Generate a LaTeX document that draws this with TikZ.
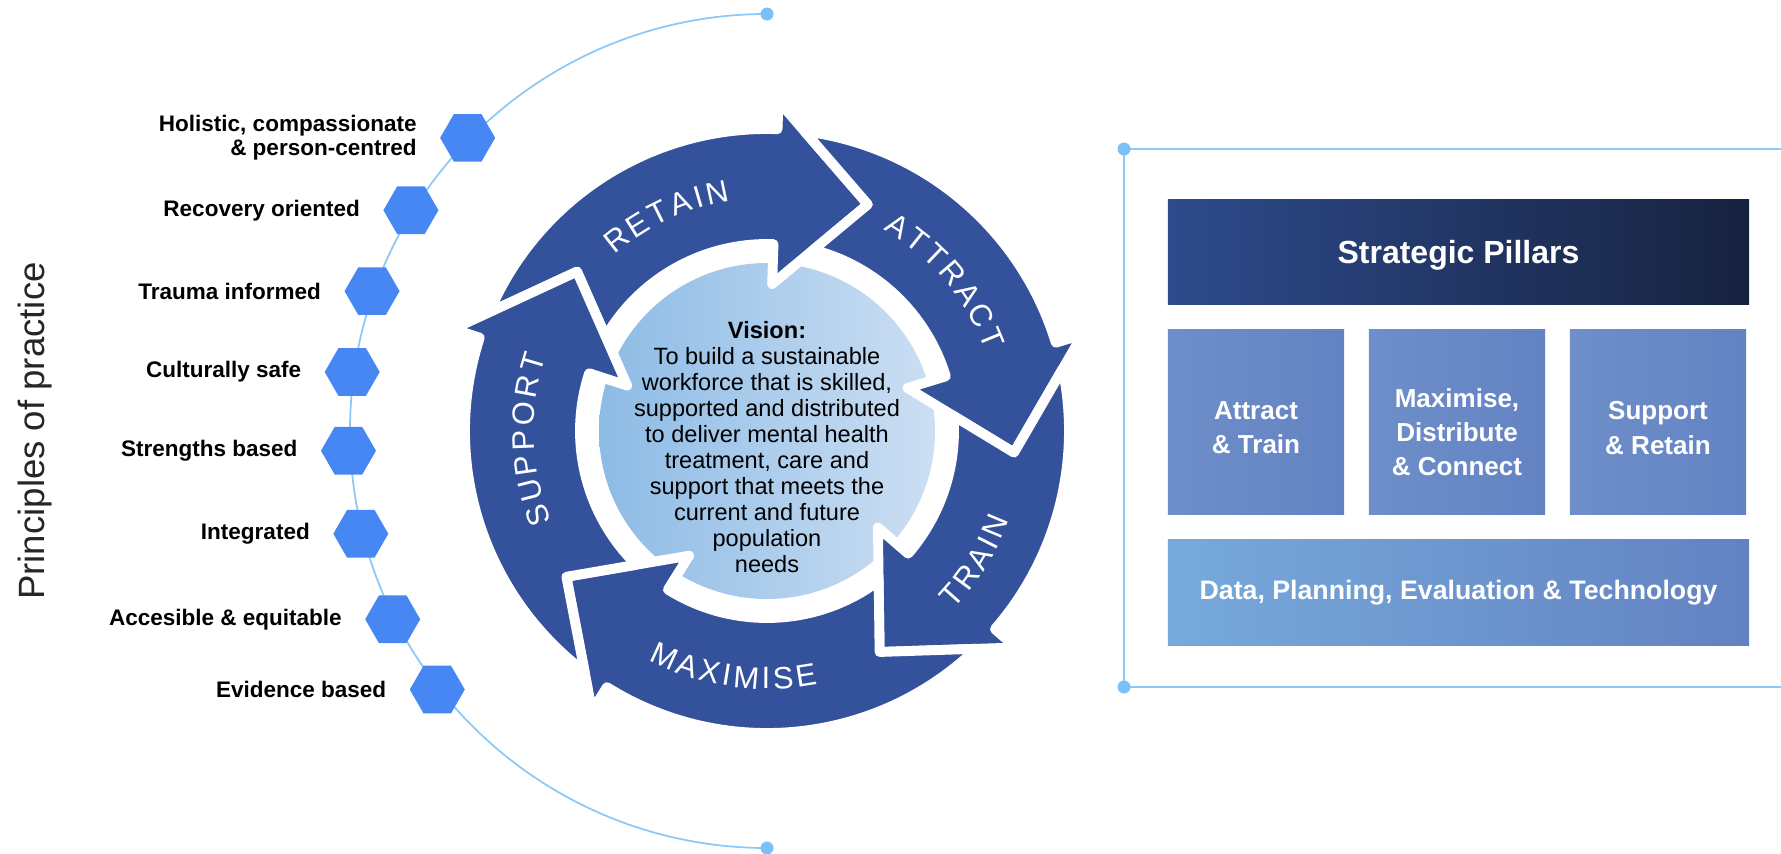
\documentclass[tikz,border=0pt]{standalone}
\usepackage{fontspec}
\setmainfont{Liberation Sans}
\newfontfamily\ringfont[WordSpace=0.38]{Liberation Sans}
\usetikzlibrary{positioning, shapes.geometric, decorations.text}

\definecolor{ringblue}{HTML}{34529B}
\definecolor{hexblue}{HTML}{4687F4}
\definecolor{arcblue}{HTML}{8CC9F6}
\definecolor{dotblue}{HTML}{7CC0F8}
\definecolor{visionleft}{HTML}{8DBBE5}
\definecolor{visionright}{HTML}{CCDFF3}
\definecolor{titleleft}{HTML}{2D4B8C}
\definecolor{titleright}{HTML}{17223F}
\definecolor{pillarleft}{HTML}{6F8FCA}
\definecolor{pillarright}{HTML}{6282C2}
\definecolor{dataleft}{HTML}{77AADB}

\tikzset{
  hexnode/.style={regular polygon, regular polygon sides=6, fill=hexblue, minimum size=0.55cm, inner sep=0pt},
  princlabel/.style={font=\fontsize{6.4pt}{6.8pt}\selectfont\bfseries, align=right, inner sep=0pt},
  arcline/.style={draw=arcblue, line width=0.5pt},
  ringarrow/.style={fill=ringblue, draw=white, line width=2.8pt, line join=round},
  pillarbox/.style={minimum width=1.76cm, minimum height=1.84cm, left color=pillarleft, right color=pillarright},
  pillartext/.style={text=white, font=\fontsize{7.4pt}{9.7pt}\selectfont\bfseries, align=center},
}

\begin{document}
\begin{tikzpicture}[x=0.01cm, y=0.01cm, node distance=0.22cm]
\useasboundingbox (0,0) rectangle (1781,853);

% principles of practice
\node[rotate=90, font=\fontsize{10.4pt}{12pt}\selectfont, text=black!85] (principles) at (35,422) {Principles of practice};
\coordinate (arctop) at (767,839);
\coordinate (arcbottom) at (767,5);
\draw[arcline] (arctop) arc[start angle=90, end angle=270, radius=417];
\fill[dotblue] (arctop) circle (6.5);
\fill[dotblue] (arcbottom) circle (6.5);

\begin{scope}[shift={(767,422)}]
  \foreach \i/\a/\txt in {0/135.6/{Holistic, compassionate\\\& person-centred}, 1/148.2/Recovery oriented,
      2/160.5/Trauma informed, 3/171.9/Culturally safe, 4/182.7/Strengths based, 5/194.2/Integrated,
      6/206.7/Accesible \& equitable, 7/218.1/Evidence based}
  {
    \node[hexnode] (hex\i) at (\a:419) {};
    \node[princlabel, left=of hex\i] (lab\i) {\txt};
  }
\end{scope}

% vision circle
\shade[left color=visionleft, right color=visionright] (767,422) circle (168);

% cycle arrows
\begin{scope}[shift={(767,422)}]
  \foreach \p/\b in {162/88, 88/17, 17/-41, -41/-122, -122/-198}
    \filldraw[ringarrow] ({\p-5.15}:302) arc[start angle={\p-5.15}, end angle=\b, radius=302]
      -- (\b:330) -- ({\b-22}:248) -- (\b:147) -- (\b:187)
      arc[start angle=\b, end angle={\p-12.34}, radius=187] -- ({\p-22}:248) -- cycle;
  % labels running clockwise
  \foreach \txt/\m in {R E T A I N/115, A T T R A C T/40, S U P P O R T/-178}
  {
    \ringfont\fontsize{8.8pt}{10pt}\selectfont
    \path[decorate, decoration={text along path, text/.expanded=\txt, text align=center, text color=white}]
      ({\m+40}:233) arc[start angle={\m+40}, end angle={\m-40}, radius=233];
  }
  % labels running anticlockwise
  \foreach \txt/\m in {T R A I N/-32, M A X I M I S E/-98}
  {
    \ringfont\fontsize{8.8pt}{10pt}\selectfont
    \path[decorate, decoration={text along path, text/.expanded=\txt, text align=center, text color=white}]
      ({\m-40}:258) arc[start angle={\m-40}, end angle={\m+40}, radius=258];
  }
\end{scope}

\node[font=\fontsize{6.7pt}{7.4pt}\selectfont, align=center, inner sep=0pt] (vision) at (767,406)
  {\textbf{Vision:}\\To build a sustainable\\workforce that is skilled,\\supported and distributed\\to deliver mental health\\treatment, care and\\support that meets the\\current and future\\population\\needs};

% strategic pillars frame
\coordinate (frametop) at (1124,704);
\coordinate (framebottom) at (1124,166);
\draw[arcline] (1781,704) -- (frametop) -- (framebottom) -- (1781,166);
\fill[dotblue] (frametop) circle (6.5);
\fill[dotblue] (framebottom) circle (6.5);

\node[minimum width=5.81cm, minimum height=1.04cm, left color=titleleft, right color=titleright, text depth=0pt,
  text=white, font=\fontsize{9.1pt}{11pt}\selectfont\bfseries] (pillars) at (1458.5,601) {Strategic Pillars};
\node[pillarbox] (attract) at (1256,431) {};
\node[pillarbox] (maximise) at (1457,431) {};
\node[pillarbox] (support) at (1658,431) {};
\node[pillartext] at ([yshift=-0.06cm]attract.center) {Attract\\\& Train};
\node[pillartext] at ([yshift=-0.1cm]maximise.center) {Maximise,\\Distribute\\\& Connect};
\node[pillartext] at ([yshift=-0.06cm]support.center) {Support\\\& Retain};
\node[minimum width=5.81cm, minimum height=1.05cm, left color=dataleft, right color=pillarright,
  text=white, font=\fontsize{7.6pt}{9pt}\selectfont\bfseries] (data) at (1458.5,260.5) {Data, Planning, Evaluation \& Technology};
\end{tikzpicture}
\end{document}
